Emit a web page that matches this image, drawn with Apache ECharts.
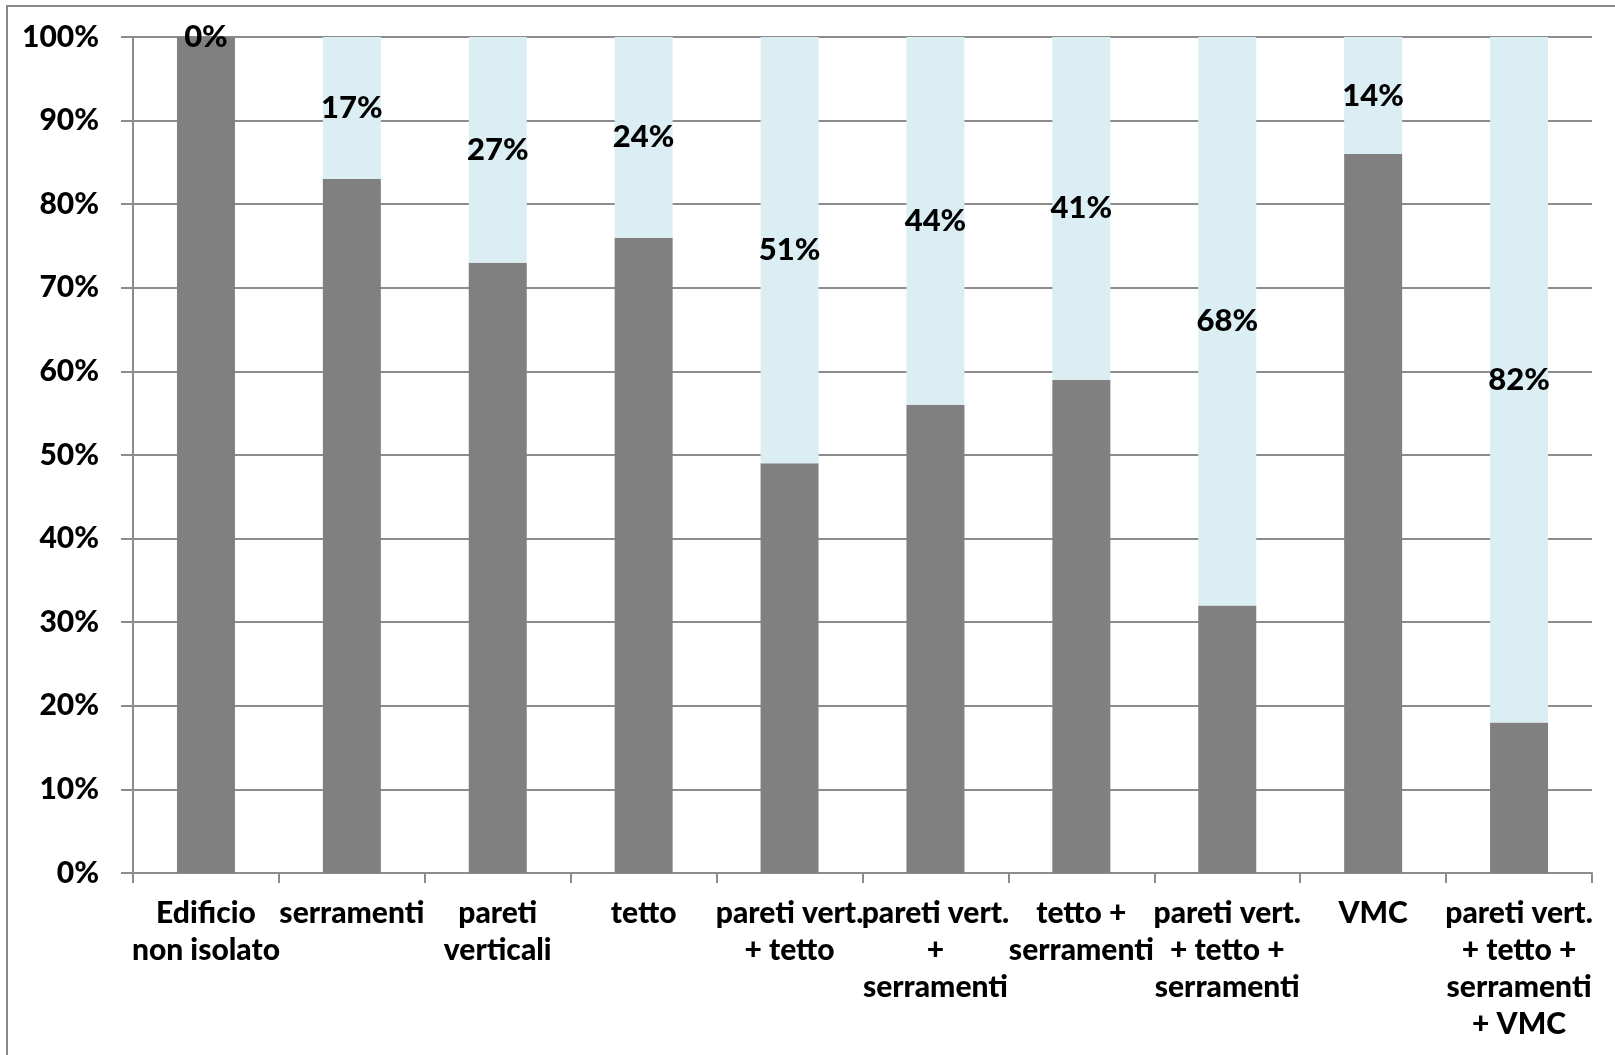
<!DOCTYPE html>
<html>
<head>
<meta charset="utf-8">
<script src="https://cdn.jsdelivr.net/npm/echarts@6/dist/echarts.min.js"></script>
<style>
html,body{margin:0;padding:0;background:#fff;}
#chart{width:1615px;height:1055px;}
</style>
</head>
<body>
<div id="chart"></div>
<script>
const categories = ["Edificio\nnon isolato", "serramenti", "pareti\nverticali", "tetto", "pareti vert.\n+ tetto", "pareti vert.\n+\nserramenti", "tetto +\nserramenti", "pareti vert.\n+ tetto +\nserramenti", "VMC", "pareti vert.\n+ tetto +\nserramenti\n+ VMC"];
const remaining = [100, 83, 73, 76, 49, 56, 59, 32, 86, 18];
const saving = [0, 17, 27, 24, 51, 44, 41, 68, 14, 82];
const yTicks = [0, 10, 20, 30, 40, 50, 60, 70, 80, 90, 100];

const FONT = 'Lato';
const chart = echarts.init(document.getElementById('chart'));
chart.setOption({
  animation: false,
  backgroundColor: '#fff',
  graphic: [{
    type: 'rect',
    shape: {x: 7, y: 6, width: 1700, height: 1200},
    style: {fill: 'none', stroke: '#888', lineWidth: 2},
    silent: true
  }],
  grid: {left: 133, right: 23, top: 37, bottom: 182},
  xAxis: {
    type: 'category',
    data: categories,
    axisLine: {lineStyle: {color: '#8c8c8c', width: 2}},
    axisTick: {show: true, length: 10, lineStyle: {color: '#8c8c8c', width: 2}},
    axisLabel: {
      interval: 0, margin: 22, color: '#000', fontFamily: FONT, fontWeight: 900,
      fontSize: 30, lineHeight: 37
    }
  },
  yAxis: {
    type: 'value', min: 0, max: 100, interval: 10,
    axisLine: {show: true, lineStyle: {color: '#8c8c8c', width: 2}},
    axisTick: {show: true, length: 12, lineStyle: {color: '#8c8c8c', width: 2}},
    splitLine: {lineStyle: {color: '#8c8c8c', width: 2}},
    axisLabel: {
      margin: 34, color: '#000', fontFamily: FONT, fontWeight: 900, fontSize: 30,
      formatter: v => yTicks.includes(v) ? v + '%' : ''
    }
  },
  series: [{
    type: 'bar', stack: 's', data: remaining, barWidth: 58,
    itemStyle: {color: '#808080'}
  }, {
    type: 'bar', stack: 's', data: saving, barWidth: 58,
    itemStyle: {color: '#dbeef3'},
    label: {
      show: true, position: 'inside', color: '#000', fontFamily: FONT,
      fontWeight: 900, fontSize: 31, formatter: p => p.value + '%'
    }
  }]
});
</script>
</body>
</html>
